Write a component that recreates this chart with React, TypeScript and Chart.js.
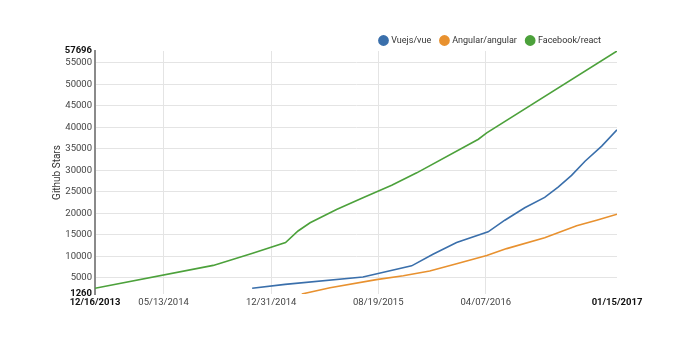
import React, { useEffect, useRef } from "react";
import { Chart, registerables } from "chart.js";

Chart.register(...registerables);

const START_DATE = "2013-12-16";
const xTickDates = ["2013-12-16", "2014-05-13", "2014-12-31", "2015-08-19", "2016-04-07", "2017-01-15"];
const xTickLabels = ["12/16/2013", "05/13/2014", "12/31/2014", "08/19/2015", "04/07/2016", "01/15/2017"];
const yTicks = [1260, 5000, 10000, 15000, 20000, 25000, 30000, 35000, 40000, 45000, 50000, 55000, 57696];

const seriesNames = ["Vuejs/vue", "Angular/angular", "Facebook/react"];

const vueDates = ["2014-11-20", "2015-01-30", "2015-07-17", "2015-10-30", "2015-12-15", "2016-02-04", "2016-04-12", "2016-05-18", "2016-06-30", "2016-08-12", "2016-09-10", "2016-10-09", "2016-11-07", "2016-12-13", "2017-01-15"];
const vueStars = [2600, 3500, 5200, 7800, 10500, 13200, 15700, 18400, 21300, 23700, 26100, 28800, 32100, 35600, 39400];

const angularDates = ["2015-03-07", "2015-05-07", "2015-08-15", "2015-10-12", "2015-12-08", "2016-02-04", "2016-04-09", "2016-05-22", "2016-08-12", "2016-10-20", "2016-12-02", "2017-01-15"];
const angularStars = [1260, 2700, 4600, 5500, 6600, 8300, 10200, 11800, 14300, 17100, 18400, 19800];

const reactDates = ["2013-12-16", "2014-08-28", "2014-11-21", "2015-01-31", "2015-02-27", "2015-03-25", "2015-05-21", "2015-07-17", "2015-09-17", "2015-11-10", "2016-03-22", "2016-04-09", "2017-01-15"];
const reactStars = [2600, 7900, 10700, 13200, 15900, 17800, 20900, 23600, 26500, 29400, 37200, 38700, 57696];

const colors = ["#3a6fab", "#e8912f", "#4ca13b"];

const dayOf = (s: string) => (Date.parse(s) - Date.parse(START_DATE)) / 86400000;
const toPoints = (dates: string[], vals: number[]) => dates.map((d, i) => ({ x: dayOf(d), y: vals[i] }));

const legendShift = {
  id: "legendShift",
  afterLayout(chart: any) {
    const lg = chart.legend;
    if (lg) {
      lg.right = chart.chartArea.right - 5;
      if (Array.isArray(lg.lineWidths)) {
        lg.lineWidths = lg.lineWidths.map((w: number) => w + 1);
      }
      lg.top += 4;
      lg.bottom += 4;
    }
  },
};

export default function App() {
  const ref = useRef<HTMLCanvasElement | null>(null);
  useEffect(() => {
    document.body.style.margin = "0";
    const xTickVals = xTickDates.map(dayOf);
    const lastX = xTickVals.length - 1;
    const lastY = yTicks.length - 1;
    const chart = new Chart(ref.current as HTMLCanvasElement, {
      type: "line",
      data: {
        datasets: [
          { label: seriesNames[0], data: toPoints(vueDates, vueStars), borderColor: colors[0], backgroundColor: colors[0] },
          { label: seriesNames[1], data: toPoints(angularDates, angularStars), borderColor: colors[1], backgroundColor: colors[1] },
          { label: seriesNames[2], data: toPoints(reactDates, reactStars), borderColor: colors[2], backgroundColor: colors[2] },
        ].map((d) => ({ ...d, borderWidth: 1.6, pointRadius: 0, tension: 0, fill: false })),
      },
      options: {
        animation: false,
        responsive: true,
        maintainAspectRatio: false,
        layout: { padding: { left: 40, right: 83, top: 22, bottom: 45 } },
        plugins: {
          tooltip: { enabled: false },
          legend: {
            position: "top",
            align: "end",
            labels: {
              usePointStyle: true,
              pointStyle: "circle",
              boxWidth: 6.5,
              boxHeight: 6.5,
              padding: 10,
              color: "#333",
              font: { family: "Roboto", size: 9 },
            },
          },
        },
        scales: {
          x: {
            type: "linear",
            min: xTickVals[0],
            max: xTickVals[lastX],
            afterBuildTicks: (axis: any) => {
              axis.ticks = xTickVals.map((v) => ({ value: v }));
            },
            afterFit: (scale: any) => {
              scale.height = 16;
            },
            border: { display: false },
            grid: {
              drawTicks: false,
              color: (ctx: any) => (ctx.index === 0 || ctx.index === lastX ? "rgba(0,0,0,0)" : "#e4e4e4"),
              lineWidth: 1,
            },
            ticks: {
              autoSkip: false,
              maxRotation: 0,
              padding: 3,
              color: (ctx: any) => (ctx.index === 0 || ctx.index === lastX ? "#111" : "#444"),
              font: (ctx: any) => ({
                family: "Roboto",
                size: 9.5,
                weight: ctx.index === 0 || ctx.index === lastX ? "bold" : "normal",
              }),
              callback: (_v: any, i: number) => xTickLabels[i],
            },
          },
          y: {
            type: "linear",
            min: yTicks[0],
            max: yTicks[lastY],
            afterBuildTicks: (axis: any) => {
              axis.ticks = yTicks.map((v) => ({ value: v }));
            },
            afterFit: (scale: any) => {
              scale.width = 55;
            },
            border: { display: true, color: "#8a8a8a", width: 2 },
            grid: {
              drawTicks: false,
              color: (ctx: any) => (ctx.index === 0 || ctx.index === lastY ? "rgba(0,0,0,0)" : "#e4e4e4"),
              lineWidth: 1,
            },
            title: {
              display: true,
              text: "Github Stars",
              color: "#333",
              font: { family: "Roboto", size: 10 },
              padding: { top: 11, bottom: 0 },
            },
            ticks: {
              autoSkip: false,
              padding: 3,
              color: (ctx: any) => (ctx.index === 0 || ctx.index === lastY ? "#111" : "#444"),
              font: (ctx: any) => ({
                family: "Roboto",
                size: 9.5,
                weight: ctx.index === 0 || ctx.index === lastY ? "bold" : "normal",
              }),
              callback: (v: any) => String(v),
            },
          },
        },
      },
      plugins: [legendShift],
    } as any);
    return () => chart.destroy();
  }, []);
  return (
    <div style={{ position: "relative", width: 700, height: 355 }}>
      <canvas ref={ref} />
    </div>
  );
}
